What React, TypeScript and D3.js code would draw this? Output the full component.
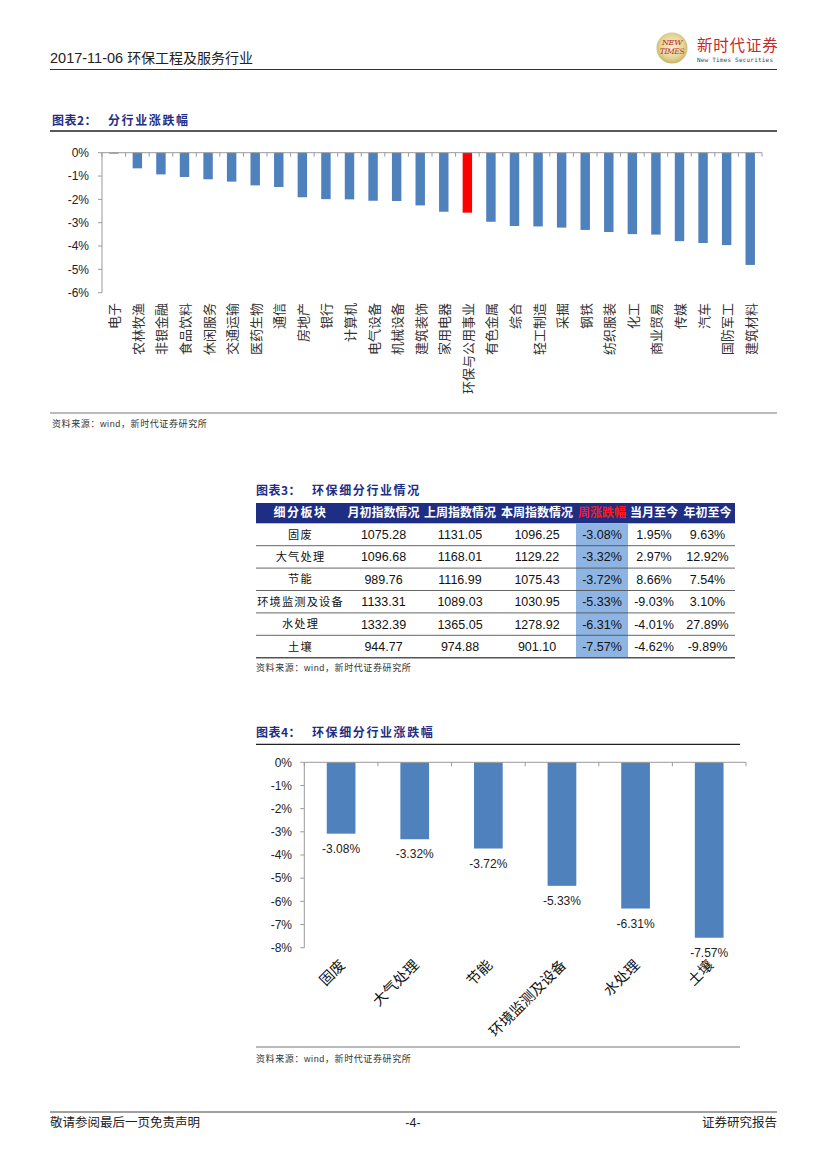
import React from 'react';
import * as d3 from 'd3';

// ---------- DATA ----------
const industries = ['电子', '农林牧渔', '非银金融', '食品饮料', '休闲服务', '交通运输', '医药生物', '通信', '房地产', '银行', '计算机', '电气设备', '机械设备', '建筑装饰', '家用电器', '环保与公用事业', '有色金属', '综合', '轻工制造', '采掘', '钢铁', '纺织服装', '化工', '商业贸易', '传媒', '汽车', '国防军工', '建筑材料'];
const industryChange = [-0.04, -0.67, -0.93, -1.04, -1.14, -1.24, -1.4, -1.47, -1.91, -1.99, -2.0, -2.06, -2.07, -2.26, -2.53, -2.57, -2.96, -3.14, -3.16, -3.21, -3.31, -3.4, -3.49, -3.51, -3.79, -3.87, -3.96, -4.81];
const highlightIndustry = '环保与公用事业';
const yTicks2 = [0, -1, -2, -3, -4, -5, -6];

const tableHeaders = ['细分板块', '月初指数情况', '上周指数情况', '本周指数情况', '周涨跌幅', '当月至今', '年初至今'];
const subSectors = ['固废', '大气处理', '节能', '环境监测及设备', '水处理', '土壤'];
const monthStartIndex = [1075.28, 1096.68, 989.76, 1133.31, 1332.39, 944.77];
const lastWeekIndex = [1131.05, 1168.01, 1116.99, 1089.03, 1365.05, 974.88];
const thisWeekIndex = [1096.25, 1129.22, 1075.43, 1030.95, 1278.92, 901.1];
const weeklyChange = [-3.08, -3.32, -3.72, -5.33, -6.31, -7.57];
const monthToDate = [1.95, 2.97, 8.66, -9.03, -4.01, -4.62];
const yearToDate = [9.63, 12.92, 7.54, 3.1, 27.89, -9.89];
const yTicks4 = [0, -1, -2, -3, -4, -5, -6, -7, -8];

// ---------- STYLE ----------
const SANS = "'Liberation Sans', Arial, 'Noto Sans CJK SC', sans-serif";
const CJK = "'Noto Sans CJK SC', 'Liberation Sans', sans-serif";
const NAVY = '#1F2E85';
const BLUE = '#4F81BD';
const AXIS = '#9A9A9A';

const loc = d3.formatLocale({ decimal: '.', thousands: ',', grouping: [3], currency: ['', ''], minus: '-' });
const f0 = loc.format('.0f');
const f2 = loc.format('.2f');
const pct = (v: number) => f0(v) + '%';
const pct2 = (v: number) => f2(v) + '%';
const num2 = f2;

function Title({ x, y, label, text, x2 }: { x: number; y: number; label: string; text: string; x2: number }) {
  return (
    <g fontFamily={CJK} fontWeight="bold" fontSize={12} fill={NAVY}>
      <text x={x} y={y} letterSpacing={0.5}>{label}</text>
      <text x={x2} y={y} letterSpacing={1.6}>{text}</text>
    </g>
  );
}

function Source({ x, y }: { x: number; y: number }) {
  return (
    <text x={x} y={y} fontFamily={CJK} fontSize={9} fill="#333" letterSpacing={0.6}>
      资料来源：<tspan fontFamily={SANS}>wind</tspan>，新时代证券研究所
    </text>
  );
}

function Chart2() {
  const x0 = 102, x1 = 762;
  const x = d3.scaleBand<string>().domain(industries).range([x0, x1]).paddingInner(0.6).paddingOuter(0.3);
  const y = d3.scaleLinear().domain([0, -6]).range([152.7, 292.7]);
  const step = x.step();
  const bounds = d3.range(industries.length + 1).map((i) => x0 + i * step);
  return (
    <g>
      <Title x={52} y={125} label="图表2：" text="分行业涨跌幅" x2={108} />
      <line x1={50} x2={777} y1={131} y2={131} stroke="#222" strokeWidth={1.3} />
      <line x1={x0} x2={x0} y1={y(0)} y2={y(-6)} stroke={AXIS} strokeWidth={1} />
      {yTicks2.map((t) => (
        <g key={t}>
          <line x1={x0 - 4} x2={x0} y1={y(t)} y2={y(t)} stroke={AXIS} />
          <text x={89} y={y(t)} dy="0.35em" textAnchor="end" fontFamily={SANS} fontSize={12} fill="#222">{pct(t)}</text>
        </g>
      ))}
      {industries.map((d, i) => (
        <rect key={d} x={x(d)} y={y(0)} width={x.bandwidth()} height={Math.max(0.8, y(industryChange[i]) - y(0))}
          fill={d === highlightIndustry ? '#FF0000' : BLUE} />
      ))}
      <line x1={x0} x2={x1} y1={y(0)} y2={y(0)} stroke={AXIS} strokeWidth={1} />
      {bounds.map((b, i) => (
        <line key={i} x1={b} x2={b} y1={y(0)} y2={y(0) + 4} stroke={AXIS} />
      ))}
      {industries.map((d) => (
        <text key={d} transform={`translate(${(x(d) as number) + x.bandwidth() / 2},303) rotate(-90)`}
          textAnchor="end" dominantBaseline="central" fontFamily={CJK} fontSize={13} fill="#333">{d}</text>
      ))}
      <line x1={50} x2={777} y1={413} y2={413} stroke="#777" strokeWidth={1} />
      <Source x={52} y={427} />
    </g>
  );
}

function Table3() {
  const cols = [256, 345, 422, 498, 576, 628, 680, 735];
  const hTop = 503, hBot = 523.3;
  const rowH = 22.4;
  const rows = subSectors.map((s, i) => [
    s,
    num2(monthStartIndex[i]),
    num2(lastWeekIndex[i]),
    num2(thisWeekIndex[i]),
    pct2(weeklyChange[i]),
    pct2(monthToDate[i]),
    pct2(yearToDate[i]),
  ]);
  const rowY = (i: number) => hBot + i * rowH;
  return (
    <g>
      <Title x={256} y={495} label="图表3：" text="环保细分行业情况" x2={312} />
      <rect x={cols[0]} y={hTop} width={cols[7] - cols[0]} height={hBot - hTop} fill={NAVY} />
      <rect x={cols[4]} y={hBot} width={cols[5] - cols[4]} height={rowH * rows.length} fill="#8DB4E2" />
      {tableHeaders.map((h, j) => (
        <text key={h} x={(cols[j] + cols[j + 1]) / 2} y={(hTop + hBot) / 2} dy="0.36em" textAnchor="middle"
          fontFamily={CJK} fontWeight="bold" fontSize={12} fill={j === 4 ? '#FF1A1A' : '#fff'}
          letterSpacing={j === 0 ? 1.5 : 0}>{h}</text>
      ))}
      {rows.map((r, i) => (
        <g key={i}>
          {r.map((c, j) => (
            <text key={j} x={(cols[j] + cols[j + 1]) / 2} y={rowY(i) + rowH / 2} dy="0.36em" textAnchor="middle"
              fontFamily={j === 0 ? CJK : SANS} fontSize={j === 0 ? 11.2 : 12.5} fill="#111"
              letterSpacing={j === 0 ? 1.2 : 0}>{c}</text>
          ))}
          <line x1={cols[0]} x2={cols[7]} y1={rowY(i + 1)} y2={rowY(i + 1)} stroke="#555"
            strokeWidth={i === rows.length - 1 ? 1.4 : 0.9} />
        </g>
      ))}
      <Source x={256} y={671} />
    </g>
  );
}

function Chart4() {
  const x0 = 304.3, x1 = 746;
  const x = d3.scaleBand<string>().domain(subSectors).range([x0, x1]).paddingInner(0.61).paddingOuter(0.305);
  const y = d3.scaleLinear().domain([0, -8]).range([762.3, 947.7]);
  const step = x.step();
  const bounds = d3.range(subSectors.length + 1).map((i) => x0 + i * step);
  return (
    <g>
      <Title x={256} y={737} label="图表4：" text="环保细分行业涨跌幅" x2={312} />
      <line x1={256} x2={740} y1={744.3} y2={744.3} stroke="#222" strokeWidth={1.3} />
      <line x1={x0} x2={x0} y1={y(0)} y2={y(-8)} stroke={AXIS} />
      {yTicks4.map((t) => (
        <g key={t}>
          <line x1={x0 - 4} x2={x0} y1={y(t)} y2={y(t)} stroke={AXIS} />
          <text x={292} y={y(t)} dy="0.35em" textAnchor="end" fontFamily={SANS} fontSize={12} fill="#222">{pct(t)}</text>
        </g>
      ))}
      {subSectors.map((d, i) => (
        <g key={d}>
          <rect x={x(d)} y={y(0)} width={x.bandwidth()} height={y(weeklyChange[i]) - y(0)} fill={BLUE} />
          <text x={(x(d) as number) + x.bandwidth() / 2} y={y(weeklyChange[i]) + 19} textAnchor="middle"
            fontFamily={SANS} fontSize={12} fill="#222">{pct2(weeklyChange[i])}</text>
        </g>
      ))}
      <line x1={x0} x2={x1} y1={y(0)} y2={y(0)} stroke={AXIS} />
      {bounds.map((b, i) => (
        <line key={i} x1={b} x2={b} y1={y(0)} y2={y(0) + 4} stroke={AXIS} />
      ))}
      {subSectors.map((d) => (
        <text key={d} transform={`translate(${(x(d) as number) + x.bandwidth() / 2 + 5},966) rotate(-45)`}
          textAnchor="end" fontFamily={CJK} fontSize={14.5} fill="#111">{d}</text>
      ))}
      <line x1={256} x2={740} y1={1047} y2={1047} stroke="#777" strokeWidth={1} />
      <Source x={256} y={1062} />
    </g>
  );
}

function Header() {
  return (
    <g>
      <text x={50} y={63} fontFamily={SANS} fontSize={14.5} fill="#222">
        2017-11-06 <tspan fontFamily={CJK} fontSize={14}>环保工程及服务行业</tspan>
      </text>
      <line x1={50} x2={777} y1={69.5} y2={69.5} stroke="#333" strokeWidth={1.2} />
      <defs>
        <radialGradient id="logoG" cx="50%" cy="45%" r="55%">
          <stop offset="0%" stopColor="#F7F0CF" />
          <stop offset="70%" stopColor="#E2D496" />
          <stop offset="100%" stopColor="#C8B469" />
        </radialGradient>
      </defs>
      <circle cx={672} cy={48} r={15.5} fill="url(#logoG)" />
      <text x={672} y={45} textAnchor="middle" fontFamily="'DejaVu Serif', serif" fontSize={8} fill="#C0281E" fontStyle="italic" letterSpacing={-0.3}>NEW</text>
      <text x={672} y={54} textAnchor="middle" fontFamily="'DejaVu Serif', serif" fontSize={7.5} fill="#C0281E" fontStyle="italic" letterSpacing={-0.4}>TIMES</text>
      <text x={697} y={51} fontFamily={CJK} fontSize={15.5} fill="#C62828" letterSpacing={0.8}>新时代证券</text>
      <text x={697} y={62} fontFamily="'DejaVu Sans Mono', monospace" fontSize={6} fill="#444" letterSpacing={0.2}>New Times Securities</text>
    </g>
  );
}

function Footer() {
  return (
    <g fontFamily={CJK} fontSize={12.5} fill="#222">
      <line x1={50} x2={777} y1={1112} y2={1112} stroke="#444" strokeWidth={1.2} />
      <text x={50} y={1127}>敬请参阅最后一页免责声明</text>
      <text x={413} y={1127} textAnchor="middle" fontFamily={SANS}>-4-</text>
      <text x={777} y={1127} textAnchor="end">证券研究报告</text>
    </g>
  );
}

export default function App() {
  return (
    <svg width={827} height={1169} viewBox="0 0 827 1169"
      style={{ position: 'absolute', left: 0, top: 0, background: '#fff' }}>
      <rect width={827} height={1169} fill="#fff" />
      <Header />
      <Chart2 />
      <Table3 />
      <Chart4 />
      <Footer />
    </svg>
  );
}
